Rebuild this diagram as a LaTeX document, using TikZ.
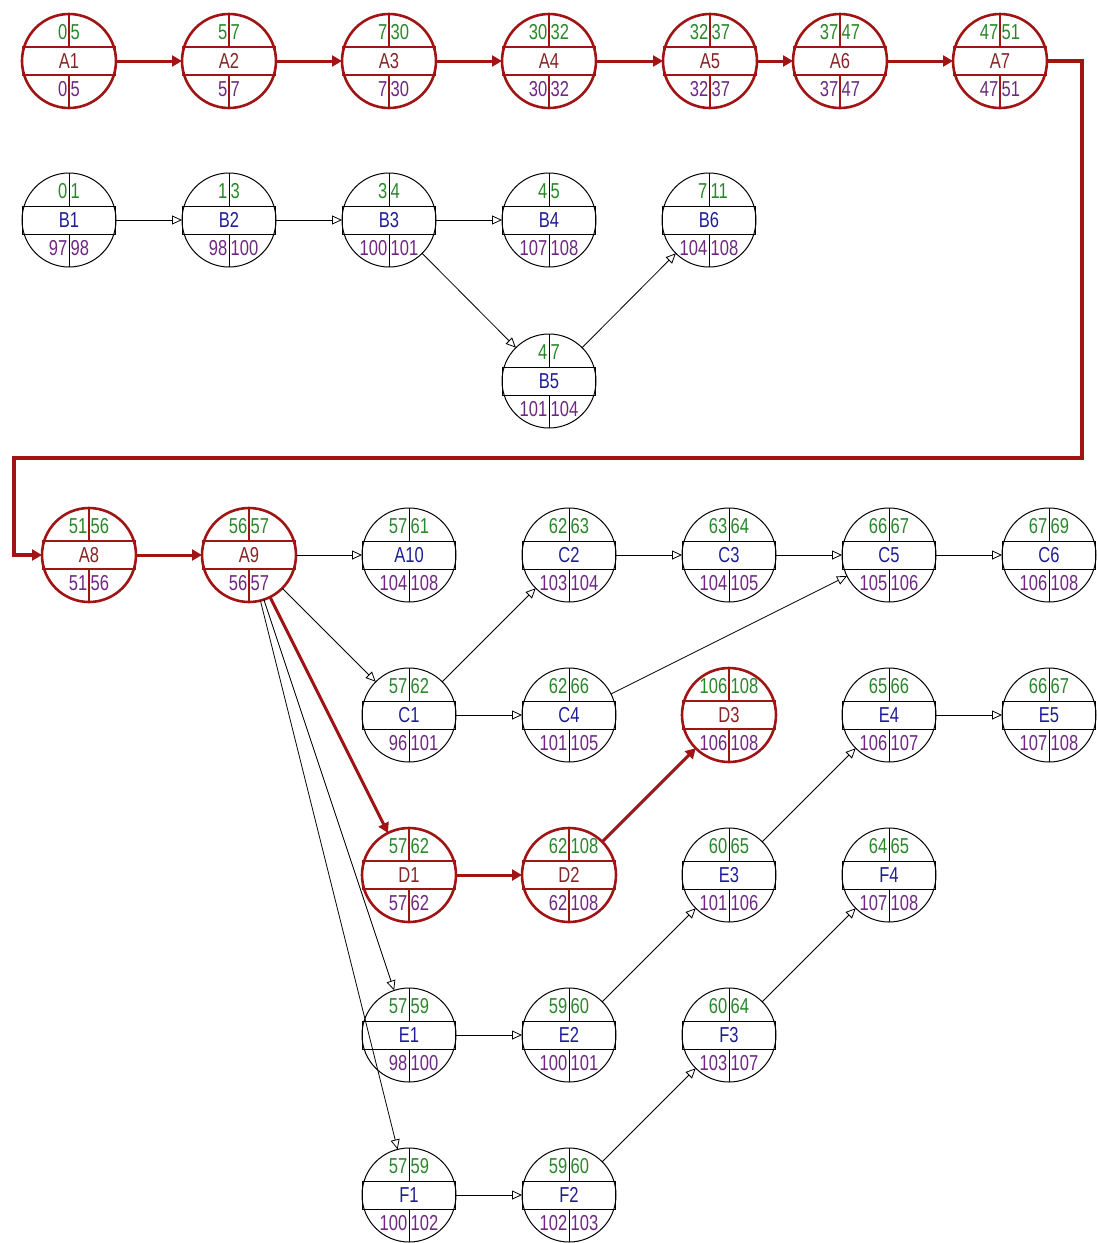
\documentclass[tikz,border=0pt]{standalone}
\usepackage{fontspec}
\setmainfont{Liberation Sans}
\usetikzlibrary{arrows.meta}
\definecolor{crit}{RGB}{160,20,20}
\definecolor{esc}{RGB}{40,135,40}
\definecolor{lsc}{RGB}{110,40,130}
\definecolor{namec}{RGB}{30,30,150}
\definecolor{critname}{RGB}{135,35,35}
\tikzset{
  pn/.style={circle, minimum size=94pt, inner sep=0pt, outer sep=0pt},
  circnorm/.style={draw=black, line width=1pt},
  circcrit/.style={draw=crit, line width=2.6pt},
  innernorm/.style={draw=black, line width=1pt},
  innercrit/.style={draw=crit, line width=1.4pt},
  namenorm/.style={text=namec},
  namecrit/.style={text=critname},
  txt/.style={inner sep=0pt, font=\fontsize{18}{18}\selectfont},
  link/.style={draw=black, line width=0.8pt, -{Triangle[open, length=10pt, width=9pt, fill=white]}},
  critlink/.style={draw=crit, line width=3pt, -{Triangle[length=10pt, width=11pt]}},
}
\newcommand\tx[1]{\scalebox{0.92}[1.2]{#1}}
% name, x, y, label, ES, EF, LS, LF, kind
\newcommand\pnode[9]{%
  \node[pn, circ#9] (#1) at (#2,#3) {};
  \begin{scope}[shift={(#2,#3)}]
    \draw[inner#9] (-46.5,-14) rectangle (46.5,14) (0,-47) -- (0,-14) (0,14) -- (0,47);
    \node[txt, name#9] at (0,0) {\tx{#4}};
    \node[txt, text=esc, anchor=east] at (-1.5,-29) {\tx{#5}};
    \node[txt, text=esc, anchor=west] at (1.5,-29) {\tx{#6}};
    \node[txt, text=lsc, anchor=east] at (-1.5,28.5) {\tx{#7}};
    \node[txt, text=lsc, anchor=west] at (1.5,28.5) {\tx{#8}};
  \end{scope}}
\begin{document}
\begin{tikzpicture}[x=1pt, y=-1pt]
\useasboundingbox (0,0) rectangle (1096,1243);
% row A
\pnode{A1}{69}{61}{A1}{0}{5}{0}{5}{crit}
\pnode{A2}{229}{61}{A2}{5}{7}{5}{7}{crit}
\pnode{A3}{389}{61}{A3}{7}{30}{7}{30}{crit}
\pnode{A4}{549}{61}{A4}{30}{32}{30}{32}{crit}
\pnode{A5}{710}{61}{A5}{32}{37}{32}{37}{crit}
\pnode{A6}{840}{61}{A6}{37}{47}{37}{47}{crit}
\pnode{A7}{1000}{61}{A7}{47}{51}{47}{51}{crit}
% row B
\pnode{B1}{69}{220}{B1}{0}{1}{97}{98}{norm}
\pnode{B2}{229}{220}{B2}{1}{3}{98}{100}{norm}
\pnode{B3}{389}{220}{B3}{3}{4}{100}{101}{norm}
\pnode{B4}{549}{220}{B4}{4}{5}{107}{108}{norm}
\pnode{B6}{709}{220}{B6}{7}{11}{104}{108}{norm}
\pnode{B5}{549}{381}{B5}{4}{7}{101}{104}{norm}
% row A8
\pnode{A8}{89}{555}{A8}{51}{56}{51}{56}{crit}
\pnode{A9}{249}{555}{A9}{56}{57}{56}{57}{crit}
\pnode{A10}{409}{555}{A10}{57}{61}{104}{108}{norm}
\pnode{C2}{569}{555}{C2}{62}{63}{103}{104}{norm}
\pnode{C3}{729}{555}{C3}{63}{64}{104}{105}{norm}
\pnode{C5}{889}{555}{C5}{66}{67}{105}{106}{norm}
\pnode{C6}{1049}{555}{C6}{67}{69}{106}{108}{norm}
% row C1
\pnode{C1}{409}{715}{C1}{57}{62}{96}{101}{norm}
\pnode{C4}{569}{715}{C4}{62}{66}{101}{105}{norm}
\pnode{D3}{729}{715}{D3}{106}{108}{106}{108}{crit}
\pnode{E4}{889}{715}{E4}{65}{66}{106}{107}{norm}
\pnode{E5}{1049}{715}{E5}{66}{67}{107}{108}{norm}
% row D1
\pnode{D1}{409}{875}{D1}{57}{62}{57}{62}{crit}
\pnode{D2}{569}{875}{D2}{62}{108}{62}{108}{crit}
\pnode{E3}{729}{875}{E3}{60}{65}{101}{106}{norm}
\pnode{F4}{889}{875}{F4}{64}{65}{107}{108}{norm}
% row E1
\pnode{E1}{409}{1035}{E1}{57}{59}{98}{100}{norm}
\pnode{E2}{569}{1035}{E2}{59}{60}{100}{101}{norm}
\pnode{F3}{729}{1035}{F3}{60}{64}{103}{107}{norm}
% row F1
\pnode{F1}{409}{1195}{F1}{57}{59}{100}{102}{norm}
\pnode{F2}{569}{1195}{F2}{59}{60}{102}{103}{norm}
% critical links
\draw[critlink] (A1) -- (A2);
\draw[critlink] (A2) -- (A3);
\draw[critlink] (A3) -- (A4);
\draw[critlink] (A4) -- (A5);
\draw[critlink] (A5) -- (A6);
\draw[critlink] (A6) -- (A7);
\coordinate (r1) at (1082,458);
\coordinate (r2) at (14,458);
\draw[critlink, line width=3.5pt] (A7) -- (A7 -| r1) -- (r1) -- (r2) -- (r2 |- A8) -- (A8);
\draw[critlink] (A8) -- (A9);
\draw[critlink] (A9) -- (D1);
\draw[critlink] (D1) -- (D2);
\draw[critlink] (D2) -- (D3);
% normal links
\draw[link] (B1) -- (B2);
\draw[link] (B2) -- (B3);
\draw[link] (B3) -- (B4);
\draw[link] (B3) -- (B5);
\draw[link] (B5) -- (B6);
\draw[link] (A9) -- (A10);
\draw[link] (A9) -- (C1);
\draw[link] (A9) -- (E1);
\draw[link] (A9) -- (F1);
\draw[link] (C1) -- (C2);
\draw[link] (C1) -- (C4);
\draw[link] (C2) -- (C3);
\draw[link] (C3) -- (C5);
\draw[link] (C4) -- (C5);
\draw[link] (C5) -- (C6);
\draw[link] (E1) -- (E2);
\draw[link] (E2) -- (E3);
\draw[link] (E3) -- (E4);
\draw[link] (E4) -- (E5);
\draw[link] (F1) -- (F2);
\draw[link] (F2) -- (F3);
\draw[link] (F3) -- (F4);
\end{tikzpicture}
\end{document}
